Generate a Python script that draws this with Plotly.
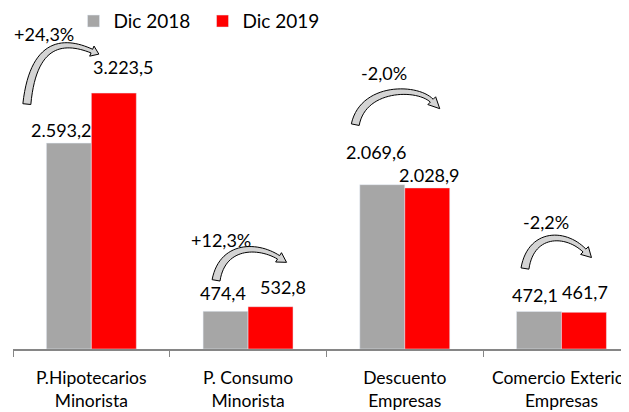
import math
import plotly.graph_objects as go

# data
categories = ["P.Hipotecarios<br>Minorista", "P. Consumo<br>Minorista",
              "Descuento<br>Empresas", "Comercio Exterior<br>Empresas"]
dic_2018 = [2593.2, 474.4, 2069.6, 472.1]
dic_2019 = [3223.5, 532.8, 2028.9, 461.7]

GRAY = "#a6a6a6"
RED = "#ff0000"
FONT = "Lato, Carlito, sans-serif"
HALF_BAR = 22.5  # px, half width of one bar

# manual label nudges (px) as in the original Excel chart
label_dx_2018 = [-7, -3, -6, -4]
label_dy_2018 = [0, 5, 20, 4]
label_dx_2019 = [10, 12, 2, 1]
label_dy_2019 = [13, 7, 0, 7]

# curved arrow geometry, px relative to the top centre of the 2018 bar (up = +)
arrows = [
    dict(tail=(-42, 39), peak=94, base=(23, 92), tip=(30, 89), text=(-25, 109)),
    dict(tail=(-9.5, 31), peak=61, base=(53, 54), tip=(61, 49), text=(-5, 71)),
    dict(tail=(-27, 60), peak=92, base=(49.5, 84), tip=(57.5, 76), text=(1.5, 112)),
    dict(tail=(-14, 43), peak=73, base=(45.5, 61), tip=(52.5, 54), text=(7.5, 90)),
]


def fmt_num(v):
    s = f"{v:,.1f}"
    return s.replace(",", "_").replace(".", ",").replace("_", ".")


def fmt_pct(a, b):
    return f"{(b / a - 1) * 100:+.1f}".replace(".", ",") + "%"


def arrow_path(tail, peak, base, tip, shift=0, w0=8, w1=4, head_w=11):
    tx, ty = tail
    bx, by = base
    dx, dy = tip[0] - bx, tip[1] - by
    dl = math.hypot(dx, dy)
    dx, dy = dx / dl, dy / dl
    top = (peak - 0.125 * (ty + by)) / 0.75
    k = (top - by) / max(-dy, 0.2)
    p0 = (tx, ty)
    p1 = (tx + 0.1 * (bx - tx), top)
    p2 = (bx - dx * k, by - dy * k)
    p3 = (bx, by)
    left, right = [], []
    n = 30
    for i in range(n + 1):
        t = i / n
        u = 1 - t
        x = u**3 * p0[0] + 3 * u * u * t * p1[0] + 3 * u * t * t * p2[0] + t**3 * p3[0]
        y = u**3 * p0[1] + 3 * u * u * t * p1[1] + 3 * u * t * t * p2[1] + t**3 * p3[1]
        ddx = 3 * u * u * (p1[0] - p0[0]) + 6 * u * t * (p2[0] - p1[0]) + 3 * t * t * (p3[0] - p2[0])
        ddy = 3 * u * u * (p1[1] - p0[1]) + 6 * u * t * (p2[1] - p1[1]) + 3 * t * t * (p3[1] - p2[1])
        ln = math.hypot(ddx, ddy) or 1
        nx, ny = -ddy / ln, ddx / ln
        w = (w0 + (w1 - w0) * t) / 2
        left.append((x + nx * w, y + ny * w))
        right.append((x - nx * w, y - ny * w))
    nx, ny = -dy, dx
    pts = left + [(bx + nx * head_w / 2, by + ny * head_w / 2), tip,
                  (bx - nx * head_w / 2, by - ny * head_w / 2)] + right[::-1]
    return "M " + " L ".join(f"{x + shift:.2f},{y:.2f}" for x, y in pts) + " Z"


fig = go.Figure()
fig.add_trace(go.Bar(name="Dic 2018", x=categories, y=dic_2018, marker_color=GRAY))
fig.add_trace(go.Bar(name="Dic 2019", x=categories, y=dic_2019, marker_color=RED))

for i, cat in enumerate(categories):
    fig.add_annotation(x=cat, y=dic_2018[i], text=fmt_num(dic_2018[i]), showarrow=False,
                       yanchor="bottom", xshift=-HALF_BAR + label_dx_2018[i], yshift=label_dy_2018[i])
    fig.add_annotation(x=cat, y=dic_2019[i], text=fmt_num(dic_2019[i]), showarrow=False,
                       yanchor="bottom", xshift=HALF_BAR + label_dx_2019[i], yshift=label_dy_2019[i])

    a = arrows[i]
    fig.add_shape(type="path", xref="x", yref="y", xsizemode="pixel", ysizemode="pixel",
                  xanchor=i, yanchor=dic_2018[i],
                  path=arrow_path(a["tail"], a["peak"], a["base"], a["tip"], shift=-HALF_BAR),
                  fillcolor="#d4d4d4", line=dict(color="black", width=1))
    fig.add_annotation(x=cat, y=dic_2018[i], text=fmt_pct(dic_2018[i], dic_2019[i]), showarrow=False,
                       xshift=-HALF_BAR + a["text"][0], yshift=a["text"][1])

fig.update_layout(
    width=629, height=412,
    margin=dict(l=5, r=0, t=0, b=71, autoexpand=False),
    plot_bgcolor="white", paper_bgcolor="white",
    font=dict(family=FONT, size=18, color="black"),
    barmode="group", bargap=0.426, bargroupgap=0,
    showlegend=True,
    legend=dict(orientation="h", x=0.097, xanchor="left", y=1.017, yanchor="top",
                font=dict(size=19), entrywidth=84, bgcolor="rgba(0,0,0,0)"),
    xaxis=dict(range=[-0.5, 3.482], showline=True, linecolor="#868686", linewidth=1.5,
               ticks="outside", tickson="boundaries", ticklen=6, tickcolor="#868686",
               ticklabelstandoff=12, showgrid=False, tickfont=dict(size=17.5), fixedrange=True),
    yaxis=dict(range=[0, 4295], visible=False, showgrid=False, fixedrange=True),
)

fig.write_html("out.html")
